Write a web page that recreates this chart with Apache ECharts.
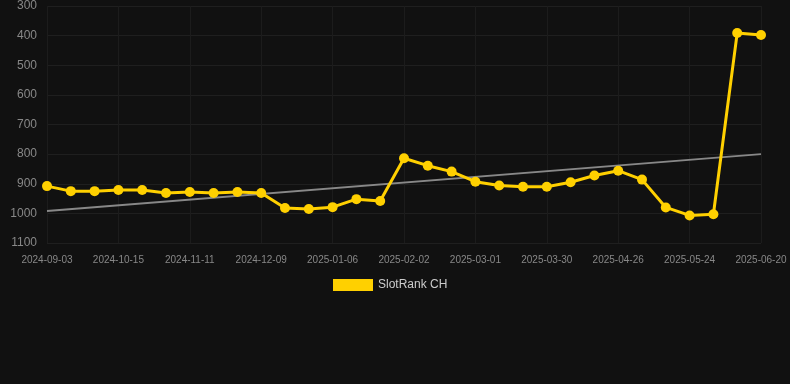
<!DOCTYPE html>
<html>
<head>
<meta charset="utf-8">
<script src="https://cdn.jsdelivr.net/npm/echarts@6/dist/echarts.min.js"></script>
<style>
  html, body { margin: 0; padding: 0; background: #111111; }
  #chart { width: 790px; height: 384px; }
</style>
</head>
<body>
<div id="chart"></div>
<script>
var dates = [
    '2024-09-03', '2024-09-17', '2024-10-01', '2024-10-15', '2024-10-24', '2024-11-02',
    '2024-11-11', '2024-11-20', '2024-11-30', '2024-12-09', '2024-12-18', '2024-12-28',
    '2025-01-06', '2025-01-15', '2025-01-24', '2025-02-02', '2025-02-11', '2025-02-20',
    '2025-03-01', '2025-03-11', '2025-03-20', '2025-03-30', '2025-04-08', '2025-04-17',
    '2025-04-26', '2025-05-05', '2025-05-15', '2025-05-24', '2025-06-02', '2025-06-11',
    '2025-06-20'
];
var ranks = [
    908, 925, 925, 921, 921, 931, 928, 931, 928, 931, 982, 985, 979, 952, 958,
    814, 839, 859, 893, 906, 910, 910, 895, 872, 856, 886, 980, 1007, 1003, 391, 398
];
// trend line end points (first and last date)
var trendEnds = [992, 800];

var trendData = dates.map(function (d, i) {
    if (i === 0) return trendEnds[0];
    if (i === dates.length - 1) return trendEnds[1];
    return null;
});

var chart = echarts.init(document.getElementById('chart'));
var option = {
    backgroundColor: '#111111',
    animation: false,
    grid: {
        left: 47,
        right: 29,
        top: 6,
        height: 237
    },
    legend: {
        bottom: 88,
        left: 328,
        itemWidth: 40,
        itemHeight: 12,
        textStyle: { color: '#cccccc', fontSize: 12, fontFamily: 'Arial' },
        data: [{ name: 'SlotRank CH', icon: 'rect' }]
    },
    xAxis: {
        type: 'category',
        data: dates,
        boundaryGap: false,
        axisLine: { show: false },
        axisTick: { show: false },
        axisLabel: {
            interval: 2,
            color: '#888888',
            fontSize: 10,
            fontFamily: 'Arial',
            margin: 12
        },
        splitLine: {
            show: true,
            interval: 2,
            lineStyle: { color: '#1c1c1c', width: 1 }
        }
    },
    yAxis: {
        type: 'value',
        inverse: true,
        min: 300,
        max: 1100,
        interval: 100,
        axisLine: { show: false },
        axisTick: { show: false },
        axisLabel: {
            color: '#888888',
            fontSize: 12,
            fontFamily: 'Arial',
            margin: 10,
            formatter: function (v) { return String(v); }
        },
        splitLine: { lineStyle: { color: '#1f1f1f', width: 1 } }
    },
    series: [
        {
            name: 'SlotRank CH',
            type: 'line',
            data: ranks,
            symbol: 'circle',
            symbolSize: 10,
            lineStyle: { color: '#ffd000', width: 3 },
            itemStyle: { color: '#ffd000' },
            z: 3
        },
        {
            name: 'trend',
            type: 'line',
            data: trendData,
            connectNulls: true,
            symbol: 'none',
            lineStyle: { color: '#888888', width: 2 },
            z: 2
        }
    ]
};
chart.setOption(option);
window.addEventListener('resize', function () {
    chart.resize();
});
</script>
</body>
</html>
